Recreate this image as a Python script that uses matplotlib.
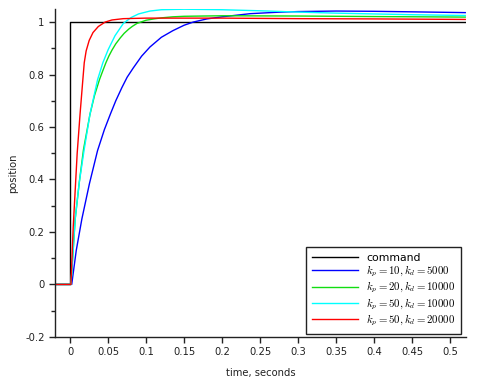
import matplotlib
matplotlib.use("Agg")
import matplotlib.pyplot as plt
from matplotlib.ticker import MultipleLocator, FuncFormatter

# ---- data ----
cmd_t = [-0.02, 0.0, 0.0, 0.52]
cmd_v = [0.0, 0.0, 1.0, 1.0]

blue_t = [-0.02, 0.002, 0.008, 0.0154, 0.0254, 0.036, 0.045, 0.053, 0.06, 0.068,
          0.075, 0.083, 0.094, 0.105, 0.12, 0.135, 0.15, 0.162, 0.18, 0.2,
          0.237, 0.27, 0.3, 0.35, 0.4, 0.45, 0.52]
blue_v = [0.0, 0.0, 0.13, 0.25, 0.385, 0.51, 0.59, 0.65, 0.70, 0.75,
          0.79, 0.825, 0.87, 0.905, 0.942, 0.967, 0.988, 1.0, 1.012, 1.02,
          1.032, 1.037, 1.04, 1.042, 1.041, 1.039, 1.036]

green_t = [-0.02, 0.001, 0.0066, 0.012, 0.0175, 0.026, 0.032, 0.0386, 0.043, 0.047,
           0.051, 0.055, 0.06, 0.066, 0.071, 0.077, 0.082, 0.088, 0.1, 0.11,
           0.12, 0.135, 0.15, 0.2, 0.3, 0.4, 0.52]
green_v = [0.0, 0.0, 0.25, 0.39, 0.514, 0.648, 0.72, 0.781, 0.815, 0.845,
           0.871, 0.893, 0.917, 0.94, 0.957, 0.973, 0.984, 0.995, 1.007, 1.012,
           1.016, 1.02, 1.022, 1.024, 1.023, 1.021, 1.019]

cyan_t = [-0.02, 0.001, 0.0066, 0.012, 0.0184, 0.026, 0.036, 0.043, 0.05, 0.059,
          0.07, 0.08, 0.09, 0.105, 0.12, 0.15, 0.2, 0.25, 0.3, 0.35, 0.4, 0.45, 0.52]
cyan_v = [0.0, 0.0, 0.25, 0.39, 0.514, 0.648, 0.78, 0.845, 0.895, 0.948,
          0.995, 1.017, 1.031, 1.042, 1.047, 1.049, 1.047, 1.043, 1.038, 1.034, 1.031, 1.028, 1.025]

red_t = [-0.02, 0.001, 0.004, 0.0066, 0.0092, 0.013, 0.0165, 0.0185, 0.021, 0.025,
         0.03, 0.037, 0.046, 0.055, 0.07, 0.1, 0.2, 0.3, 0.4, 0.52]
red_v = [0.0, 0.0, 0.22, 0.36, 0.50, 0.65, 0.775, 0.845, 0.89, 0.93,
         0.96, 0.983, 1.0, 1.008, 1.013, 1.015, 1.015, 1.013, 1.012, 1.01]

labels = ["command",
          r"$k_p = 10, k_d = 5000$",
          r"$k_p = 20, k_d = 10000$",
          r"$k_p = 50, k_d = 10000$",
          r"$k_p = 50, k_d = 20000$"]

plt.rcParams['mathtext.fontset'] = 'cm'
plt.rcParams['font.family'] = ['DejaVu Sans']

fig = plt.figure(figsize=(5.0, 3.89), dpi=100)
ax = fig.add_axes([0.11, 0.134, 0.822, 0.843])

lw = 1.0
ax.plot(cmd_t, cmd_v, color='black', lw=lw, label=labels[0])
ax.plot(blue_t, blue_v, color='#0000ff', lw=lw, label=labels[1])
ax.plot(green_t, green_v, color='#11dd11', lw=lw, label=labels[2])
ax.plot(cyan_t, cyan_v, color='#00ffff', lw=lw, label=labels[3])
ax.plot(red_t, red_v, color='#ff0000', lw=lw, label=labels[4])

ax.set_xlim(-0.02, 0.521)
ax.set_ylim(-0.2, 1.05)

for s in ['top', 'right']:
    ax.spines[s].set_visible(False)
for s in ['left', 'bottom']:
    ax.spines[s].set_linewidth(1.0)
    ax.spines[s].set_color('#222222')

ax.xaxis.set_major_locator(MultipleLocator(0.05))
ax.yaxis.set_major_locator(MultipleLocator(0.2))
ax.yaxis.set_minor_locator(MultipleLocator(0.1))
fmt = FuncFormatter(lambda v, p: ('%g' % round(v, 3)) if abs(v) > 1e-9 else '0')
ax.xaxis.set_major_formatter(fmt)
ax.yaxis.set_major_formatter(fmt)
ax.tick_params(axis='both', which='major', direction='out', length=4, width=1.0,
               labelsize=7.2, colors='#222222')
ax.tick_params(axis='y', which='minor', direction='out', length=3, width=1.0,
               colors='#222222')

ax.set_xlabel("time, seconds", fontsize=7.2, labelpad=8, color='#222222')
ax.set_ylabel("position", fontsize=7.2, labelpad=5, color='#222222')

leg = ax.legend(loc='lower right', bbox_to_anchor=(0.988, 0.009), fontsize=7.8,
                frameon=True, fancybox=False, edgecolor='#222222', framealpha=1.0,
                handlelength=4.3, borderaxespad=0.0, labelspacing=0.08,
                handletextpad=0.7, borderpad=0.55)
leg.get_frame().set_linewidth(1.0)

fig.savefig("out.png", dpi=100)
